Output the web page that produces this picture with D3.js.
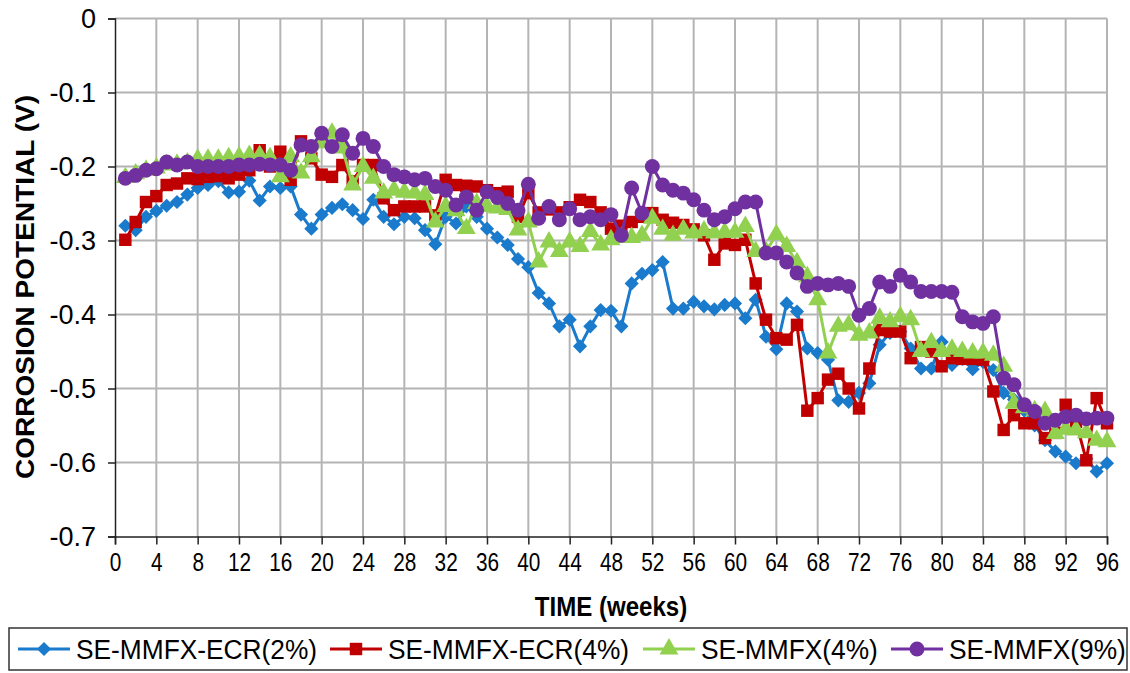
<!DOCTYPE html>
<html><head><meta charset="utf-8">
<script src="https://cdn.jsdelivr.net/npm/d3@7"></script>
<style>
body{margin:0;background:#fff;}
text{font-family:"Liberation Sans",Arial,sans-serif;fill:#000;}
</style></head><body>
<svg id="c" width="1130" height="673"></svg>
<script>
const weeks = d3.range(1, 97);
const xTicks = d3.range(0, 97, 4);
const yTicks = [0, -0.1, -0.2, -0.3, -0.4, -0.5, -0.6, -0.7];
const yTickLabels = ["0", "-0.1", "-0.2", "-0.3", "-0.4", "-0.5", "-0.6", "-0.7"];
const seriesNames = ["SE-MMFX-ECR(2%)", "SE-MMFX-ECR(4%)", "SE-MMFX(4%)", "SE-MMFX(9%)"];

const ecr2 = [-0.280,-0.286,-0.268,-0.260,-0.253,-0.248,-0.238,-0.229,-0.225,-0.220,
-0.235,-0.234,-0.219,-0.246,-0.227,-0.229,-0.227,-0.265,-0.284,-0.265,
-0.256,-0.251,-0.259,-0.271,-0.245,-0.268,-0.278,-0.268,-0.270,-0.286,
-0.305,-0.268,-0.277,-0.254,-0.268,-0.284,-0.296,-0.306,-0.325,-0.336,
-0.371,-0.385,-0.416,-0.407,-0.443,-0.416,-0.394,-0.395,-0.416,-0.358,
-0.345,-0.340,-0.329,-0.392,-0.392,-0.383,-0.389,-0.393,-0.387,-0.385,
-0.405,-0.380,-0.430,-0.447,-0.385,-0.396,-0.446,-0.452,-0.461,-0.516,
-0.518,-0.506,-0.493,-0.441,-0.425,-0.423,-0.446,-0.473,-0.473,-0.437,
-0.468,-0.460,-0.474,-0.464,-0.475,-0.506,-0.515,-0.530,-0.550,-0.570,
-0.585,-0.592,-0.601,-0.595,-0.612,-0.601];

const ecr4 = [-0.299,-0.275,-0.248,-0.240,-0.225,-0.223,-0.216,-0.217,-0.214,-0.213,
-0.216,-0.211,-0.205,-0.178,-0.200,-0.180,-0.218,-0.166,-0.189,-0.211,
-0.214,-0.198,-0.220,-0.198,-0.198,-0.243,-0.259,-0.254,-0.254,-0.254,
-0.266,-0.218,-0.225,-0.226,-0.227,-0.232,-0.236,-0.234,-0.268,-0.236,
-0.262,-0.258,-0.262,-0.255,-0.245,-0.248,-0.262,-0.284,-0.280,-0.275,
-0.268,-0.263,-0.272,-0.276,-0.279,-0.285,-0.293,-0.326,-0.304,-0.306,
-0.299,-0.358,-0.407,-0.432,-0.434,-0.414,-0.530,-0.513,-0.488,-0.480,
-0.500,-0.527,-0.473,-0.421,-0.423,-0.423,-0.459,-0.444,-0.450,-0.470,
-0.459,-0.460,-0.460,-0.461,-0.504,-0.556,-0.536,-0.547,-0.547,-0.567,
-0.560,-0.522,-0.545,-0.597,-0.513,-0.547];

const mmfx4 = [-0.215,-0.210,-0.205,-0.202,-0.198,-0.197,-0.195,-0.190,-0.190,-0.190,
-0.188,-0.187,-0.185,-0.185,-0.188,-0.214,-0.187,-0.209,-0.187,-0.168,
-0.155,-0.175,-0.225,-0.200,-0.216,-0.236,-0.232,-0.235,-0.236,-0.238,
-0.275,-0.254,-0.260,-0.284,-0.250,-0.254,-0.256,-0.258,-0.286,-0.275,
-0.329,-0.302,-0.315,-0.302,-0.308,-0.288,-0.306,-0.299,-0.296,-0.296,
-0.293,-0.270,-0.285,-0.293,-0.285,-0.290,-0.287,-0.290,-0.289,-0.289,
-0.281,-0.315,-0.315,-0.292,-0.308,-0.330,-0.349,-0.380,-0.452,-0.416,
-0.414,-0.428,-0.425,-0.405,-0.410,-0.403,-0.407,-0.450,-0.438,-0.450,
-0.447,-0.450,-0.452,-0.452,-0.455,-0.470,-0.520,-0.526,-0.530,-0.531,
-0.561,-0.555,-0.556,-0.560,-0.570,-0.572];

const mmfx9 = [-0.216,-0.212,-0.205,-0.203,-0.194,-0.198,-0.194,-0.200,-0.200,-0.200,
-0.200,-0.198,-0.198,-0.197,-0.198,-0.198,-0.205,-0.171,-0.173,-0.155,
-0.173,-0.157,-0.182,-0.162,-0.173,-0.200,-0.211,-0.214,-0.218,-0.216,
-0.227,-0.232,-0.252,-0.241,-0.259,-0.234,-0.242,-0.250,-0.259,-0.224,
-0.270,-0.254,-0.272,-0.257,-0.272,-0.268,-0.272,-0.265,-0.293,-0.229,
-0.263,-0.200,-0.225,-0.232,-0.236,-0.245,-0.259,-0.272,-0.268,-0.257,
-0.248,-0.248,-0.317,-0.317,-0.329,-0.344,-0.362,-0.358,-0.360,-0.358,
-0.362,-0.401,-0.392,-0.356,-0.362,-0.347,-0.356,-0.369,-0.369,-0.369,
-0.370,-0.403,-0.410,-0.412,-0.403,-0.486,-0.495,-0.522,-0.531,-0.547,
-0.543,-0.538,-0.536,-0.541,-0.540,-0.540];

const seriesValues = [ecr2, ecr4, mmfx4, mmfx9];
const colors = ["#1a7acb", "#c00000", "#92d050", "#7030a0"];
const symbols = [d3.symbolSquare, d3.symbolSquare, d3.symbolTriangle, d3.symbolCircle];
const symSizes = [100, 155, 155, 175];
const symRot = [45, 0, 0, 0];

const svg = d3.select("#c");
const L = 115, R = 1107, T = 18.5, B = 536.5;
const x = d3.scaleLinear().domain([0, 96]).range([L, R]);
const y = d3.scaleLinear().domain([0, -0.7]).range([T, B]);

// grid
const grid = svg.append("g");
grid.selectAll(".vg").data(xTicks.filter(d => d > 0)).join("line")
  .attr("x1", d => x(d)).attr("x2", d => x(d)).attr("y1", T).attr("y2", B)
  .attr("stroke", "#b4b4b4").attr("stroke-width", 2);
grid.selectAll(".hg").data(yTicks.filter(d => d !== -0.7)).join("line")
  .attr("x1", L).attr("x2", R).attr("y1", d => y(d)).attr("y2", d => y(d))
  .attr("stroke", "#b4b4b4").attr("stroke-width", 2);

// axes
const yAxis = d3.axisLeft(y).tickValues(yTicks).tickSize(7).tickPadding(12)
  .tickFormat((d, i) => yTickLabels[i]);
const gy = svg.append("g").attr("transform", `translate(${L},0)`).call(yAxis);
gy.select(".domain").attr("stroke", "#222").attr("stroke-width", 1.5);
gy.selectAll(".tick line").attr("stroke", "#222").attr("stroke-width", 1.5);
gy.selectAll("text").attr("font-size", 27).attr("font-family", "Liberation Sans, Arial").attr("fill", "#000").attr("dy", "0.35em");

const xAxis = d3.axisBottom(x).tickValues(xTicks).tickSize(8).tickPadding(8);
const gx = svg.append("g").attr("transform", `translate(0,${B})`).call(xAxis);
gx.select(".domain").attr("stroke", "#222").attr("stroke-width", 1.5);
gx.selectAll(".tick line").attr("stroke", "#222").attr("stroke-width", 1.5);
gx.selectAll("text").attr("font-size", 26).attr("font-family", "Liberation Sans, Arial")
  .attr("fill", "#000").attr("transform", "scale(0.8,1)");

// titles
svg.append("text").attr("transform", `translate(${(L + R) / 2},616) scale(0.86,1)`)
  .attr("text-anchor", "middle").attr("font-size", 28).attr("font-weight", "bold").text("TIME (weeks)");
svg.append("text").attr("transform", `translate(34,287) rotate(-90)`)
  .attr("text-anchor", "middle").attr("font-size", 26).attr("font-weight", "bold")
  .attr("textLength", 384).attr("lengthAdjust", "spacingAndGlyphs").text("CORROSION POTENTIAL (V)");

// series
seriesValues.forEach((vals, si) => {
  const g = svg.append("g");
  const data = weeks.map((w, i) => [w, vals[i]]);
  g.append("path").datum(data)
    .attr("d", d3.line().x(d => x(d[0])).y(d => y(d[1])))
    .attr("fill", "none").attr("stroke", colors[si]).attr("stroke-width", 3);
  g.selectAll("path.m").data(data).join("path").attr("class", "m")
    .attr("transform", d => `translate(${x(d[0])},${y(d[1])}) rotate(${symRot[si]})`)
    .attr("d", d3.symbol().type(symbols[si]).size(symSizes[si]))
    .attr("fill", colors[si]);
});

// legend
const lg = svg.append("g");
lg.append("rect").attr("x", 9).attr("y", 628).attr("width", 1118).attr("height", 42)
  .attr("fill", "#fff").attr("stroke", "#333").attr("stroke-width", 1.5);
const legX = [18, 330, 643, 891];
seriesNames.forEach((name, si) => {
  const gi = lg.append("g").attr("transform", `translate(${legX[si]},649)`);
  gi.append("line").attr("x1", 0).attr("x2", 52).attr("stroke", colors[si]).attr("stroke-width", 3);
  gi.append("path").attr("transform", `translate(26,0) rotate(${symRot[si]})`)
    .attr("d", d3.symbol().type(symbols[si]).size(symSizes[si])).attr("fill", colors[si]);
  gi.append("text").attr("transform", "translate(58,0) scale(0.94,1)").attr("dy", "0.35em")
    .attr("font-size", 28).text(name);
});
</script></body></html>
